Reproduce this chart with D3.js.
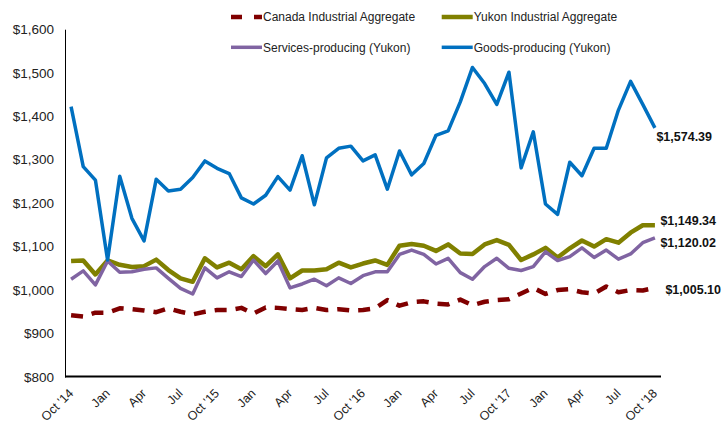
<!DOCTYPE html>
<html>
<head>
<meta charset="utf-8">
<script src="https://cdn.jsdelivr.net/npm/d3@7"></script>
<style>
  body { margin: 0; background: #fff; }
  svg { font-family: "Liberation Sans", Arial, sans-serif; }
</style>
</head>
<body>
<svg id="chart" width="723" height="424"></svg>
<script>
// monthly categories, Oct '14 .. Oct '18
const months = [
    "Oct '14","Nov","Dec","Jan","Feb","Mar","Apr","May","Jun","Jul","Aug","Sep",
    "Oct '15","Nov","Dec","Jan","Feb","Mar","Apr","May","Jun","Jul","Aug","Sep",
    "Oct '16","Nov","Dec","Jan","Feb","Mar","Apr","May","Jun","Jul","Aug","Sep",
    "Oct '17","Nov","Dec","Jan","Feb","Mar","Apr","May","Jun","Jul","Aug","Sep",
    "Oct '18"
];

const canadaValues = [
    942,939,948,948,958,956,953,949,958,950,944,950,954,954,959,
    946,960,959,956,954,959,954,956,953,954,958,977,964,972,974,969,967,978,
    965,973,977,979,992,1005,991,1000,1002,995,992,1008,995,1000,999,1005
];
const yukonValues = [
    1067,1068,1036,1068,1058,1053,1055,1070,1046,1027,1019,1073,1052,1063,1048,
    1078,1055,1082,1027,1045,1045,1048,1063,1052,1061,1068,1058,1102,1106,1102,1090,1105,
    1084,1083,1105,1115,1104,1069,1082,1097,1075,1096,1114,1100,1117,1109,1132,1149,1149
];
const servicesValues = [
    1025,1044,1012,1067,1041,1042,1048,1051,1027,1004,991,1051,1028,1042,1031,1069,
    1038,1067,1005,1014,1025,1010,1028,1015,1033,1042,1042,1082,1092,1082,1060,1073,
    1040,1025,1054,1073,1050,1045,1054,1088,1068,1077,1097,1075,1092,1071,1083,1109,1120
];
const goodsValues = [
    1422,1284,1253,1069,1262,1165,1113,1255,1228,1232,1259,1297,1280,1268,1212,
    1198,1218,1261,1230,1309,1196,1304,1326,1331,1297,1311,1232,1320,1265,1291,
    1356,1366,1433,1512,1475,1427,1501,1281,1364,1198,1174,1294,1263,1326,1326,
    1414,1480,1427,1373
];

const yTicks = [800, 900, 1000, 1100, 1200, 1300, 1400, 1500, 1600];
const endLabels = ["$1,005.10", "$1,149.34", "$1,120.02", "$1,574.39"];

const series = [
    { name: "Canada Industrial Aggregate", values: canadaValues, color: "#800000", width: 4.5, dash: "12,9", label: endLabels[0], dx: 10.5, dy: 2 },
    { name: "Yukon Industrial Aggregate", values: yukonValues, color: "#808000", width: 4.5, dash: null, label: endLabels[1], dx: 5.5, dy: -4.5 },
    { name: "Services-producing (Yukon)", values: servicesValues, color: "#8064A2", width: 3.5, dash: null, label: endLabels[2], dx: 5.5, dy: 4.8 },
    { name: "Goods-producing (Yukon)", values: goodsValues, color: "#0070C0", width: 3.5, dash: null, label: endLabels[3], dx: 1.5, dy: 9 }
];

const svg = d3.select("#chart");

const x = d3.scaleBand()
    .domain(months.map((m, i) => i))
    .range([65, 661]);

const y = d3.scaleLinear()
    .domain([800, 1600])
    .range([377, 29.2]);

const cx = i => x(i) + x.bandwidth() / 2;

// y axis
const yAxis = svg.append("g")
    .attr("transform", "translate(65,0)")
    .call(d3.axisLeft(y).tickValues(yTicks).tickSize(0).tickPadding(11)
        .tickFormat(d => "$" + d3.format(",")(d)));
yAxis.select(".domain").attr("stroke", "#000").attr("stroke-width", 1);
yAxis.selectAll("text")
    .attr("font-size", "13.5px")
    .attr("fill", "#222")
    .attr("font-family", "'Liberation Sans', Arial, sans-serif");

// x axis line
svg.append("line")
    .attr("x1", 65).attr("x2", 661)
    .attr("y1", 376.5).attr("y2", 376.5)
    .attr("stroke", "#000")
    .attr("stroke-width", 2.2);

// x tick labels every 3 months
svg.append("g")
    .selectAll("text")
    .data(months.map((m, i) => ({ m, i })).filter(d => d.i % 3 === 0))
    .join("text")
    .attr("transform", d => `translate(${cx(d.i) + 3},394) rotate(-45)`)
    .attr("text-anchor", "end")
    .attr("font-size", "12.5px")
    .attr("fill", "#222")
    .text(d => d.m);

// lines
const line = d3.line()
    .x((d, i) => cx(i))
    .y(d => y(d));

svg.append("g")
    .selectAll("path")
    .data(series)
    .join("path")
    .attr("d", d => line(d.values))
    .attr("fill", "none")
    .attr("stroke", d => d.color)
    .attr("stroke-width", d => d.width)
    .attr("stroke-linejoin", "round")
    .attr("stroke-dasharray", d => d.dash);

// end labels
svg.append("g")
    .selectAll("text")
    .data(series)
    .join("text")
    .attr("x", d => cx(d.values.length - 1) + d.dx)
    .attr("y", d => y(d.values[d.values.length - 1]) + d.dy)
    .attr("dy", "0.35em")
    .attr("font-size", "12.5px")
    .attr("font-weight", "bold")
    .attr("fill", "#111")
    .text(d => d.label);

// legend, 2 x 2
const legendPos = [
    { x: 231, y: 17 },
    { x: 441.7, y: 17 },
    { x: 231, y: 47.3 },
    { x: 441.7, y: 47.3 }
];
const legend = svg.append("g")
    .selectAll("g")
    .data(series)
    .join("g")
    .attr("transform", (d, i) => `translate(${legendPos[i].x},${legendPos[i].y})`);

legend.append("line")
    .attr("x1", 0).attr("x2", 31)
    .attr("stroke", d => d.color)
    .attr("stroke-width", d => d.width)
    .attr("stroke-dasharray", d => d.dash ? "11,12" : null);

legend.append("text")
    .attr("x", 32)
    .attr("dy", "0.36em")
    .attr("font-size", "12px")
    .attr("fill", "#222")
    .text(d => d.name);
</script>
</body>
</html>
